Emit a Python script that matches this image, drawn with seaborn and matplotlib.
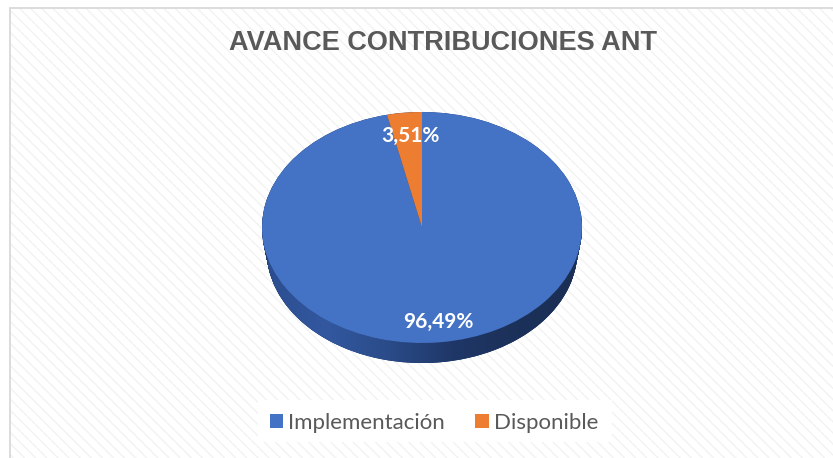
import numpy as np
import matplotlib
matplotlib.use("Agg")
import matplotlib.pyplot as plt
import seaborn as sns
from matplotlib.patches import Rectangle, Patch, Polygon

sns.set_theme(style="white")
plt.rcParams['font.family'] = ['Lato', 'DejaVu Sans']
plt.rcParams['hatch.linewidth'] = 1.0

# ---- data ----
categories = ["Implementación", "Disponible"]
values = [96.49, 3.51]
labels = ["96,49%", "3,51%"]
title = "AVANCE CONTRIBUCIONES ANT"

top_colors = ["#4472C4", "#ED7D31"]
side_color = "#223D6F"

W, H = 833, 458
fig = plt.figure(figsize=(W / 100, H / 100), dpi=100)
fig.patch.set_facecolor("white")

# background with faint diagonal hatch and border
bg = Rectangle((10 / W, 0), 1.0, (H - 8) / H, transform=fig.transFigure,
               facecolor="white", edgecolor="#F2F2F2", hatch="\\\\\\", linewidth=0, zorder=-5)
fig.patches.append(bg)
border = Rectangle((10 / W, -0.01), 1.0, (H - 8) / H + 0.01, transform=fig.transFigure,
                   facecolor="none", edgecolor="#D9D9D9", linewidth=1.3, zorder=-4)
fig.patches.append(border)

# pie axes geometry (pixels)
px_left, px_right = 262, 582
px_top, px_bot = 112, 363
ry_px = 115.5
dd = 23.5 / ry_px          # depth offset of bottom rim
shrink = 0.03              # perspective shrink of bottom rim
ybot = 1 - (px_bot - px_top) / ry_px
ax = fig.add_axes([px_left / W, (H - px_bot) / H, (px_right - px_left) / W, (px_bot - px_top) / H])
ax.set_zorder(1)
ax.patch.set_alpha(0)

# side (depth) layers
for t in np.linspace(1, 0, 60):
    ax.pie(values, colors=[side_color, side_color], startangle=90, counterclock=False,
           center=(0, -t * dd), radius=1 - t * shrink, wedgeprops=dict(linewidth=0), frame=False)

# gradient shading on side
th = np.linspace(np.pi, 2 * np.pi, 200)
upper = np.column_stack([np.cos(th), np.sin(th)])
rb = 1 - shrink
lower = np.column_stack([rb * np.cos(th[::-1]), rb * np.sin(th[::-1]) - dd])
side_poly = Polygon(np.vstack([upper, lower]), closed=True, facecolor="none", edgecolor="none",
                    transform=ax.transData)
ax.add_patch(side_poly)
grad = np.linspace(0, 1, 256).reshape(1, -1)
cmap = matplotlib.colors.LinearSegmentedColormap.from_list(
    "side", ["#2B4D8E", "#3358A0", "#2A4B88", "#1F3767", "#1C3159", "#1B2F55"])
im = ax.imshow(grad, extent=(-1, 1, ybot, 0.05), cmap=cmap, aspect="auto", zorder=2)
im.set_clip_path(side_poly)

# top face
wedges, _ = ax.pie(values, colors=top_colors, startangle=90, counterclock=False,
                   radius=1, wedgeprops=dict(linewidth=0), frame=False)
for w in wedges:
    w.set_zorder(3)

ax.set_aspect("auto")
ax.set_xlim(-1, 1)
ax.set_ylim(ybot, 1)
ax.axis("off")

# data labels
ax.text(0.103, -0.814, labels[0], color="white", fontsize=15, fontweight="bold",
        ha="center", va="center", zorder=5)
ax.text(-0.07, 0.79, labels[1], color="white", fontsize=15, fontweight="bold",
        ha="center", va="center", zorder=5)

# title
fig.text(442.5 / W, 1 - 43 / H, title, ha="center", va="center", fontsize=19.5,
         fontweight="bold", color="#595959", family=["Liberation Sans", "DejaVu Sans"])

# legend
lb = Rectangle((258 / W, 1 - 442 / H), (612 - 258) / W, 42 / H, transform=fig.transFigure,
               facecolor="white", edgecolor="none", zorder=2)
fig.patches.append(lb)
handles = [Patch(facecolor=c, edgecolor="none") for c in top_colors]
leg = fig.legend(handles, categories, loc="center", bbox_to_anchor=(434 / W, 1 - 423 / H),
                 ncol=2, frameon=False, fontsize=16, handlelength=0.6, handleheight=0.6,
                 handletextpad=0.23, columnspacing=1.36, labelcolor="#595959")

fig.savefig("out.png", dpi=100, facecolor="white")
